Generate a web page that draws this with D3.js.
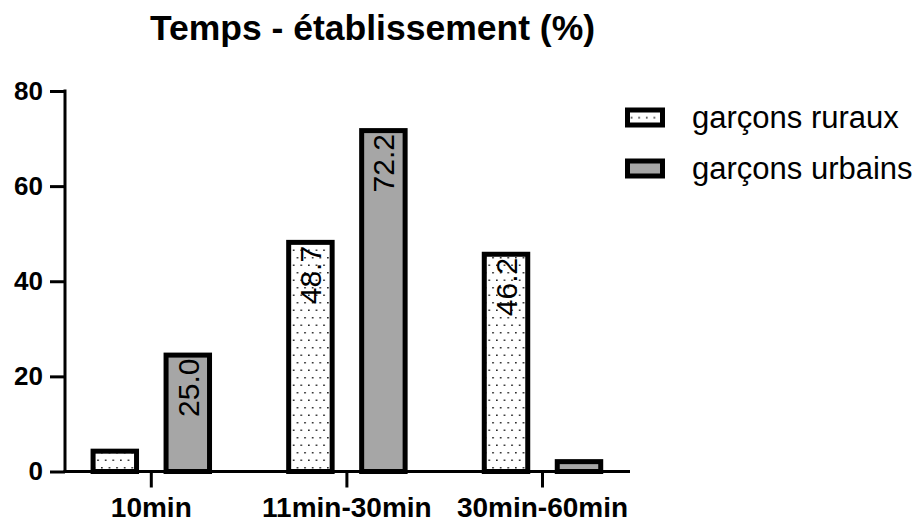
<!DOCTYPE html>
<html>
<head>
<meta charset="utf-8">
<script src="https://cdn.jsdelivr.net/npm/d3@7"></script>
<style>
  html, body { margin: 0; padding: 0; background: #fff; }
  svg { display: block; font-family: "Liberation Sans", Arial, Helvetica, sans-serif; }
</style>
</head>
<body>
<svg id="chart" width="918" height="523"></svg>
<script>
// Temps de trajet vers l'établissement, en % des garçons
const categories = ["10min", "11min-30min", "30min-60min"];
const seriesNames = ["garçons ruraux", "garçons urbains"];
const ruraux = [4.8, 48.7, 46.2];
const urbains = [25.0, 72.2, 2.6];
const labelsRuraux = [null, "48.7", "46.2"];
const labelsUrbains = ["25.0", "72.2", null];
const yTicks = [0, 20, 40, 60, 80];

const svg = d3.select("#chart");

// dotted fill for the rural bars
const defs = svg.append("defs");
const pat = defs.append("pattern")
  .attr("id", "dots")
  .attr("patternUnits", "userSpaceOnUse")
  .attr("width", 7.6).attr("height", 15)
  .attr("x", 0).attr("y", 0);
pat.append("rect").attr("width", 7.6).attr("height", 15).attr("fill", "#fff");
pat.append("rect").attr("x", 2).attr("y", 2).attr("width", 1.5).attr("height", 1.5).attr("fill", "#111");
pat.append("rect").attr("x", 5.8).attr("y", 9.5).attr("width", 1.5).attr("height", 1.5).attr("fill", "#111");

const fills = ["url(#dots)", "#a6a6a6"];
const stroke = 5;

const y = d3.scaleLinear().domain([0, 80]).range([471.5, 91]);
const x0 = d3.scaleBand().domain(categories).range([53.5, 640.3]).paddingInner(0).paddingOuter(0);
const x1 = d3.scaleBand().domain(seriesNames).range([0, x0.bandwidth()]).paddingInner(0.336).paddingOuter(0.508);

const rows = categories.map((c, i) => ({
  cat: c,
  vals: [
    { s: seriesNames[0], v: ruraux[i], label: labelsRuraux[i], k: 0 },
    { s: seriesNames[1], v: urbains[i], label: labelsUrbains[i], k: 1 }
  ]
}));

// Bars (border drawn inside the bar extent)
const groups = svg.append("g").selectAll("g").data(rows).join("g")
  .attr("transform", d => `translate(${x0(d.cat)},0)`);

groups.selectAll("rect").data(d => d.vals).join("rect")
  .attr("x", d => x1(d.s) + stroke / 2)
  .attr("y", d => y(d.v) + stroke / 2)
  .attr("width", x1.bandwidth() - stroke)
  .attr("height", d => y(0) - y(d.v) - stroke / 2)
  .attr("fill", d => fills[d.k])
  .attr("stroke", "#000")
  .attr("stroke-width", stroke);

// Value labels, rotated, at the top of the bar
groups.selectAll("text.val").data(d => d.vals.filter(v => v.label)).join("text")
  .attr("class", "val")
  .attr("transform", d => `translate(${x1(d.s) + x1.bandwidth() / 2},${y(d.v) + 6}) rotate(-90)`)
  .attr("text-anchor", "end")
  .attr("dy", "0.36em")
  .attr("font-size", 30)
  .attr("fill", "#000")
  .text(d => d.label);

// Y axis
const yAxis = svg.append("g")
  .attr("transform", "translate(65,0)")
  .call(d3.axisLeft(y).tickValues(yTicks).tickSize(15).tickPadding(7).tickSizeOuter(0));
yAxis.select(".domain").attr("stroke-width", 3).attr("d", `M0,${y(80) - 1.5}V${y(0) + 1.5}`);
yAxis.selectAll(".tick line").attr("stroke-width", 3);
yAxis.selectAll(".tick text")
  .attr("font-size", 26).attr("font-weight", "bold")
  .attr("font-family", "Liberation Sans, Arial, sans-serif")
  .attr("fill", "#000");

// X axis
const xAxis = svg.append("g")
  .attr("transform", `translate(0,${y(0)})`)
  .call(d3.axisBottom(x0).tickSize(16).tickPadding(10).tickSizeOuter(0));
xAxis.select(".domain").attr("stroke-width", 3).attr("d", "M63.5,0H630");
xAxis.selectAll(".tick line").attr("stroke-width", 3);
xAxis.selectAll(".tick text")
  .attr("font-size", 28).attr("font-weight", "bold")
  .attr("font-family", "Liberation Sans, Arial, sans-serif")
  .attr("fill", "#000");

// Title
svg.append("text")
  .attr("x", 372.5).attr("y", 40)
  .attr("text-anchor", "middle")
  .attr("font-size", 35.5).attr("font-weight", "bold")
  .text("Temps - établissement (%)");

// Legend
const legend = svg.append("g").selectAll("g").data(seriesNames).join("g")
  .attr("transform", (d, i) => `translate(625,${107.5 + i * 51})`);
legend.append("rect")
  .attr("x", stroke / 2).attr("y", stroke / 2)
  .attr("width", 40 - stroke).attr("height", 20 - stroke)
  .attr("fill", (d, i) => fills[i])
  .attr("stroke", "#000").attr("stroke-width", stroke);
legend.append("text")
  .attr("x", 67).attr("y", 20.5)
  .attr("font-size", 31)
  .text(d => d);
</script>
</body>
</html>
